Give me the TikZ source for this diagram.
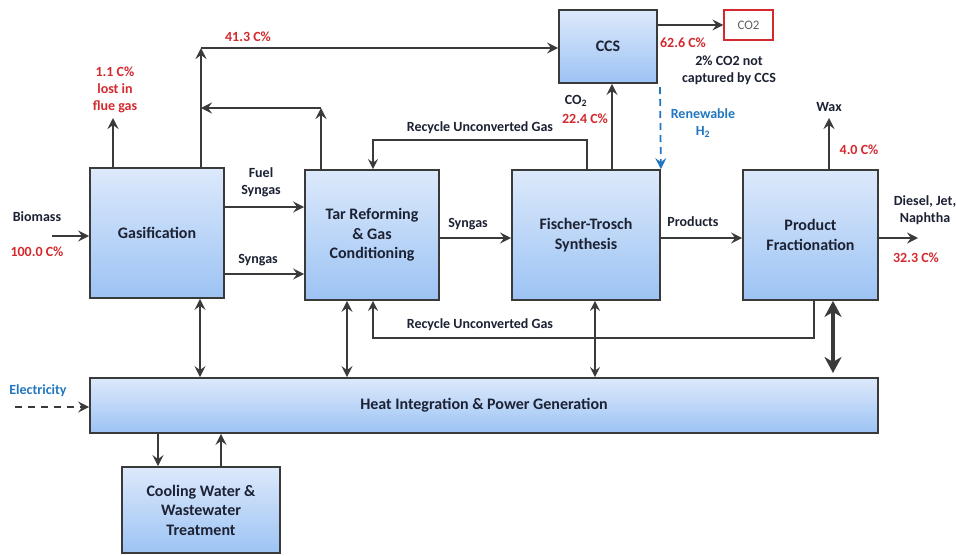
\documentclass[tikz,border=0pt]{standalone}
\usepackage{fontspec}
\setmainfont{Carlito}
\usepackage{tikz}
\usetikzlibrary{positioning}
\usetikzlibrary{calc}
\usetikzlibrary{arrows.meta}

\definecolor{linegray}{HTML}{3A3A3A}
\definecolor{boxtop}{HTML}{DDE9FB}
\definecolor{boxbot}{HTML}{9CC3F4}
\definecolor{cred}{HTML}{D42A2F}
\definecolor{cblue}{HTML}{2277C0}
\definecolor{txtdark}{HTML}{1C2233}

\tikzset{
    unit/.style={draw=linegray, line width=1.8pt, top color=boxtop, bottom color=boxbot,
        align=center, inner sep=0pt, text=txtdark, font=\fontsize{16}{19.5}\selectfont\bfseries},
    lbl/.style={align=center, inner sep=0pt, text=txtdark, font=\fontsize{14}{17}\selectfont\bfseries},
    pct/.style={lbl, text=cred},
    note/.style={lbl, text=cblue},
    flow/.style={draw=linegray, line width=1.8pt, -{Stealth[length=11pt,width=11pt,inset=4pt]}},
    thin/.style={draw=linegray, line width=1.3pt, -{Stealth[length=10pt,width=10pt,inset=3.5pt]}},
    both/.style={flow, {Stealth[length=11pt,width=11pt,inset=4pt]}-{Stealth[length=11pt,width=11pt,inset=4pt]}},
}

\begin{document}
\begin{tikzpicture}[x=1pt, y=-1pt]
    \useasboundingbox[fill=white] (0,0) rectangle (956,555);

    % process units
    \node [unit, minimum width=134, minimum height=130] (gas) at (157,233) {Gasification};
    \node [unit, minimum width=134, minimum height=130] (tar) at (372,235) {Tar Reforming\\\& Gas\\Conditioning};
    \node [unit, minimum width=148, minimum height=130] (ft) at (586,235) {Fischer-Trosch\\Synthesis};
    \node [unit, minimum width=135, minimum height=130] (pf) at (810.5,235) {Product\\Fractionation};
    \node [unit, minimum width=98, minimum height=73] (ccs) at (608,46.5) {CCS};
    \node [draw=cred, line width=1.2pt, fill=white, minimum width=49, minimum height=30, inner sep=0pt,
        text=linegray!80, font=\fontsize{13}{15}\selectfont] (co2) at (748.5,25) {CO2};
    \node [unit, minimum width=788, minimum height=55] (heat) at (484,405.5) {Heat Integration \& Power Generation};
    \node [unit, minimum width=158, minimum height=86] (cool) at (201,510) {Cooling Water \&\\Wastewater\\Treatment};

    \coordinate (bio) at (52,236);
    \coordinate (flue) at (113,118);
    \coordinate (up) at (201,48);
    \coordinate (side) at (321,108);
    \coordinate (wax) at (829,118);
    \coordinate (fuel) at (918,238);
    \coordinate (elec) at (15,407);
    \coordinate (h2) at (660,87);

    % main streams
    \draw [flow] (bio) -- (gas.west |- bio);
    \draw [flow] (flue |- gas.north) -- (flue);
    \draw [flow] (up |- gas.north) -- (up);
    \draw [flow] (up) -- (ccs.west |- up);
    \draw [flow] (side |- tar.north) -- (side);
    \draw [flow] (side) -- (up |- side);
    \draw [flow] (gas.east |- 0,207) -- (tar.west |- 0,207);
    \draw [flow] (gas.east |- 0,274) -- (tar.west |- 0,274);
    \draw [flow] (tar.east |- 0,238) -- (ft.west |- 0,238);
    \draw [flow] (612,0 |- ft.north) -- (612,0 |- ccs.south);
    \draw [flow] (ccs.east |- co2.west) -- (co2.west);
    \draw [flow] (ft.east |- 0,238) -- (pf.west |- 0,238);
    \draw [flow] (wax |- pf.north) -- (wax);
    \draw [flow] (pf.east |- fuel) -- (fuel);
    \draw [flow, draw=cblue, dashed, dash pattern=on 7pt off 5pt, -{Stealth[length=11pt,width=11pt,inset=4pt]}, cblue] (h2) -- (ft.north east);
    \draw [flow, dashed, dash pattern=on 7pt off 6pt] (elec) -- (heat.west |- elec);

    % recycle loops
    \draw [thin] (587,0 |- ft.north) |- (373,140) -- (373,0 |- tar.north);
    \draw [thin] (814,0 |- pf.south) |- (373,338) -- (373,0 |- tar.south);

    % heat exchange
    \draw [both] (200,0 |- gas.south) -- (200,0 |- heat.north);
    \draw [both] (347,0 |- tar.south) -- (347,0 |- heat.north);
    \draw [thin, {Stealth[length=10pt,width=10pt,inset=3.5pt]}-{Stealth[length=10pt,width=10pt,inset=3.5pt]}] (595,0 |- ft.south) -- (595,0 |- heat.north);
    \draw [draw=linegray, line width=3.8pt, {Stealth[length=16pt,width=17pt,inset=5pt]}-{Stealth[length=16pt,width=17pt,inset=5pt]}] (833,0 |- pf.south) -- (833,373);
    \draw [flow] (158,0 |- heat.south) -- (158,0 |- cool.north);
    \draw [flow] (221,0 |- cool.north) -- (221,0 |- heat.south);

    % labels
    \node [lbl] (lbio) at (37,217) {Biomass};
    \node [pct] (pbio) at (37,252) {100.0 C\%};
    \node [pct] (pflue) at (115,90) {1.1 C\%\\lost in\\flue gas};
    \node [pct] (pccsin) at (248,37) {41.3 C\%};
    \node [lbl] (lfuel) at (261,182) {Fuel\\Syngas};
    \node [lbl] (lsyn) at (258,260) {Syngas};
    \node [lbl] (lsyn2) at (468,224) {Syngas};
    \node [lbl] (lrec1) at (480,128) {Recycle Unconverted Gas};
    \node [lbl] (lrec2) at (480,325) {Recycle Unconverted Gas};
    \node [lbl] (lco2) at (576,101) {CO\textsubscript{2}};
    \node [pct] (pco2) at (585,119) {22.4 C\%};
    \node [note] (lh2) at (703,123) {Renewable\\H\textsubscript{2}};
    \node [pct] (pccs) at (683,43) {62.6 C\%};
    \node [lbl] (lnot) at (729,70) {2\% CO2 not\\captured by CCS};
    \node [lbl] (lprod) at (693,222) {Products};
    \node [lbl] (lwax) at (829,107) {Wax};
    \node [pct] (pwax) at (859,150) {4.0 C\%};
    \node [lbl] (lfuels) at (925,210) {Diesel, Jet,\\Naphtha};
    \node [pct] (pfuels) at (916,258) {32.3 C\%};
    \node [note] (lelec) at (38,391) {Electricity};
\end{tikzpicture}
\end{document}
